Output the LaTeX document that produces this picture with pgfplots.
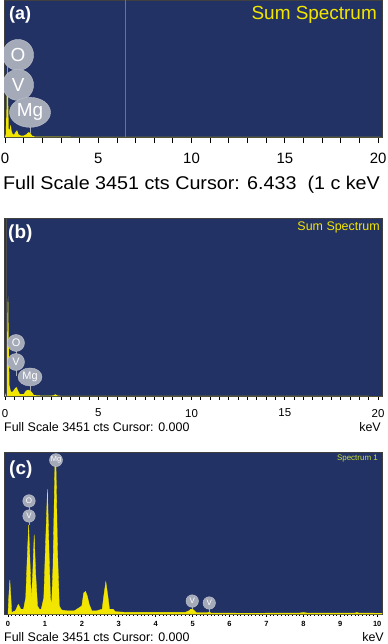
\documentclass[border=0pt]{standalone}
\usepackage{fontspec}
\setmainfont{Liberation Sans}
\usepackage{pgfplots}
\pgfplotsset{compat=1.18}
\usetikzlibrary{shapes.geometric}
\definecolor{navy}{RGB}{35,50,100}
\definecolor{specy}{RGB}{242,230,0}
\definecolor{lblg}{RGB}{165,170,185}
\definecolor{specg}{RGB}{205,225,60}
\newcommand{\fs}[1]{\fontsize{#1}{#1}\selectfont}
\tikzset{lbl/.style={circle, fill=lblg, draw=lblg!70!white, line width=0.4bp, text=white, inner sep=0pt}}
\begin{document}
\begin{tikzpicture}[x=1bp,y=1bp]
\useasboundingbox (0,0) rectangle (387,-644);
\pgfplotsset{
 eds/.style={scale only axis, axis background/.style={fill=navy}, ymin=0, ymax=100, ytick=\empty,
  xtick pos=bottom, tick align=outside, axis line style={draw=black!75, line width=0.6bp},
  /pgf/number format/assume math mode=true, tick style={black, line width=0.8bp}},
}
% ---------- (a)
\begin{axis}[eds, at={(4bp,0bp)}, anchor=north west, width=378bp, height=137bp,
  xmin=-0.054, xmax=20.21, xtick={0,5,10,15,20}, minor x tick num=4,
  major tick length=6bp, minor tick length=6bp,
  xticklabel style={font=\fs{15}, yshift=-7bp}]
\addplot[fill=specy, draw=none] coordinates {
(0,0) (0.04,2) (0.08,20) (0.11,50) (0.14,53) (0.17,25) (0.2,6) (0.24,5) (0.3,9) (0.36,4)
(0.42,2) (0.5,2) (0.58,4) (0.65,5) (0.72,2) (0.85,1) (1.0,1) (1.15,2) (1.25,3.5) (1.35,3)
(1.45,1) (1.6,0.3) (2,0.2) (20.2,0)} \closedcycle;
\draw[black!55, line width=0.8bp] (axis cs:6.433,0) -- (axis cs:6.433,100);
\draw[lblg, line width=1bp] (axis cs:1.34,18) -- (axis cs:1.34,3);
\node[lbl, minimum size=31bp, font=\fs{19}] at (axis cs:0.70,59.9) {O};
\node[lbl, minimum size=31bp, font=\fs{19}] at (axis cs:0.70,38) {V};
\node[lbl, ellipse, minimum width=41bp, minimum height=30bp, font=\fs{19}] at (axis cs:1.34,18) {Mg};
\end{axis}
% ---------- (b)
\begin{axis}[eds, at={(4bp,-218bp)}, anchor=north west, width=378bp, height=178bp,
  xmin=-0.054, xmax=20.21, xtick={0,5,10,15,20}, minor x tick num=9,
  major tick length=3.5bp, minor tick length=3.5bp,
  xticklabel style={font=\fs{11.5}, yshift=-6bp}]
\addplot[fill=specy, draw=none] coordinates {
(0,0) (0.06,2) (0.1,20) (0.14,52) (0.17,56) (0.2,30) (0.24,6) (0.3,3) (0.36,2) (0.45,3)
(0.55,4.5) (0.62,5) (0.7,3) (0.8,1) (1.0,1) (1.12,3) (1.25,3.5) (1.35,3) (1.45,2) (1.55,0.5)
(2.0,0.2) (2.6,0.3) (2.7,1) (2.8,0.3) (3.0,0.1) (20.2,0)} \closedcycle;
\draw[black!70, line width=0.8bp] (axis cs:0.08,0) -- (axis cs:0.08,100);
\draw[lblg, line width=0.8bp] (axis cs:0.59,29.8) -- (axis cs:0.59,11);
\draw[lblg, line width=0.8bp] (axis cs:1.34,10.7) -- (axis cs:1.34,3);
\node[lbl, minimum size=17bp, font=\fs{11}] at (axis cs:0.59,29.8) {O};
\node[lbl, minimum size=17bp, font=\fs{11}] at (axis cs:0.59,19.1) {V};
\node[lbl, ellipse, minimum width=24bp, minimum height=18bp, font=\fs{11}] at (axis cs:1.34,10.7) {Mg};
\end{axis}
% ---------- (c)
\begin{axis}[eds, at={(4bp,-452bp)}, anchor=north west, width=378bp, height=162bp,
  xmin=-0.108, xmax=10.13, xtick={0,1,...,10}, minor x tick num=9,
  major tick length=3bp, minor tick length=1.8bp,
  xticklabel style={font=\bfseries\fs{7.5}, yshift=-1bp}]
\addplot[fill=specy, draw=specy, line width=0.3bp] coordinates {
(0,0) (0.02,10) (0.05,21) (0.08,10) (0.1,1) (0.2,2) (0.28,6) (0.35,3) (0.42,3)
(0.48,10) (0.53,40) (0.56,55) (0.6,30) (0.63,8) (0.67,25) (0.71,49) (0.75,25) (0.8,5)
(0.85,3) (0.9,3) (0.97,10) (1.02,45) (1.07,77) (1.11,40) (1.15,10) (1.18,5)
(1.22,30) (1.27,92) (1.30,92) (1.34,40) (1.39,5) (1.45,2.5) (1.6,2) (1.8,2) (2.0,5)
(2.05,13) (2.1,14) (2.15,11) (2.2,6) (2.27,2) (2.4,2) (2.55,3) (2.6,12) (2.65,20)
(2.7,12) (2.75,3) (2.85,3) (2.9,1.5) (3.2,1) (4.0,1) (4.8,1) (4.9,2) (4.95,3) (5.0,3)
(5.05,2) (5.1,0.8) (5.4,0.8) (5.45,1.2) (5.5,0.6) (6.5,0.5) (7.9,0.6) (8.0,1) (8.1,0.6)
(9.4,0.6) (9.45,1) (9.5,0.6) (10.13,0.5)} \closedcycle;
\draw[lblg, line width=0.7bp] (axis cs:0.57,69.8) -- (axis cs:0.57,55);
\draw[lblg, line width=0.7bp] (axis cs:4.99,8) -- (axis cs:4.99,3);
\draw[lblg, line width=0.7bp] (axis cs:5.45,6.8) -- (axis cs:5.45,1.2);
\node[lbl, minimum size=13bp, font=\fs{7.5}] at (axis cs:1.30,95) {Mg};
\node[lbl, minimum size=12.5bp, font=\fs{8}] at (axis cs:0.57,69.8) {O};
\node[lbl, minimum size=12.5bp, font=\fs{8}] at (axis cs:0.57,60.5) {V};
\node[lbl, minimum size=12.5bp, font=\fs{8}] at (axis cs:4.99,8) {V};
\node[lbl, minimum size=12.5bp, font=\fs{8}] at (axis cs:5.45,6.8) {V};
\end{axis}
% ---------- texts
\node[anchor=west, text=white, font=\bfseries\fs{18}, inner sep=0] at (9,-15) {(a)};
\node[anchor=east, text=specy, font=\fs{19}, inner sep=0] at (377,-15) {Sum Spectrum};
\node[anchor=base west, font=\fs{18.5}, inner sep=0] at (3,-189.5) {\scalebox{1.07}[1]{Full Scale 3451 cts Cursor: 6.433\ \ (1 c}};
\node[anchor=base east, font=\fs{18.5}, inner sep=0] at (380,-189.5) {\scalebox{1.07}[1]{keV}};
\node[anchor=west, text=white, font=\bfseries\fs{19}, inner sep=0] at (8,-234) {(b)};
\node[anchor=east, text=specy, font=\fs{12.5}, inner sep=0] at (380,-227) {Sum Spectrum};
\node[anchor=base west, font=\fs{12.5}, inner sep=0] at (4,-431.5) {Full Scale 3451 cts Cursor: 0.000};
\node[anchor=base east, font=\fs{12.5}, inner sep=0] at (381,-431.5) {keV};
\node[anchor=west, text=white, font=\bfseries\fs{19}, inner sep=0] at (9,-470) {(c)};
\node[anchor=east, text=specg, font=\fs{8}, inner sep=0] at (378,-459) {Spectrum 1};
\node[anchor=base west, font=\fs{12.5}, inner sep=0] at (4,-641.5) {Full Scale 3451 cts Cursor: 0.000};
\node[anchor=base east, font=\fs{12.5}, inner sep=0] at (384,-641.5) {keV};
\end{tikzpicture}
\end{document}
